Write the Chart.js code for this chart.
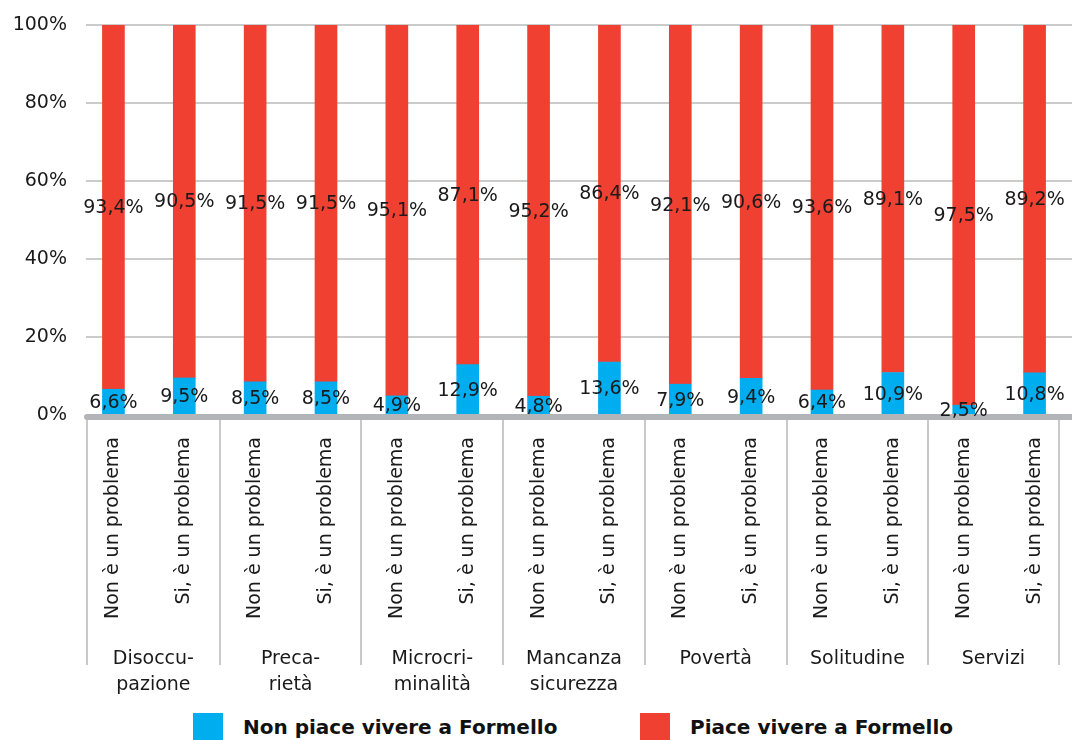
<!DOCTYPE html>
<html lang="it">
<head>
    <meta charset="UTF-8">
    <title>Formello - problemi percepiti</title>
    <script src="https://cdn.jsdelivr.net/npm/chart.js"></script>
    <style>
        body {
            margin: 0;
            background: #fff;
            font-family: 'DejaVu Sans', sans-serif;
        }
        .wrap {
            width: 1072px;
            height: 740px;
            position: relative;
        }
        .legend {
            display: flex;
            align-items: center;
            height: 35px;
            margin-top: 4px;
            padding-left: 193px;
            font-weight: bold;
            font-size: 20px;
            color: #111;
        }
        .legend .item {
            display: flex;
            align-items: center;
        }
        .legend .item:first-child {
            width: 447px;
        }
        .legend .sw {
            width: 30px;
            height: 27px;
            margin-right: 20px;
        }
    </style>
</head>
<body>
<div class="wrap">
    <canvas id="chart" width="1072" height="705"></canvas>
    <div class="legend" id="legend"></div>
</div>

<script>
    // risposte per ogni tema
    const answers = ["Non è un problema", "Si, è un problema"];
    const groups = [
        ["Disoccu-", "pazione"],
        ["Preca-", "rietà"],
        ["Microcri-", "minalità"],
        ["Mancanza", "sicurezza"],
        ["Povertà"],
        ["Solitudine"],
        ["Servizi"]
    ];
    const nonPiace = [6.6, 9.5, 8.5, 8.5, 4.9, 12.9, 4.8, 13.6, 7.9, 9.4, 6.4, 10.9, 2.5, 10.8];
    const piace = [93.4, 90.5, 91.5, 91.5, 95.1, 87.1, 95.2, 86.4, 92.1, 90.6, 93.6, 89.1, 97.5, 89.2];
    const yTicks = [0, 20, 40, 60, 80, 100];
    const seriesNames = ["Non piace vivere a Formello", "Piace vivere a Formello"];

    const BLUE = "#00aeef";
    const RED = "#ef4031";
    const FONT = "'DejaVu Sans', sans-serif";

    const labels = [];
    groups.forEach(() => answers.forEach(a => labels.push(a)));

    function fmt(v) {
        return v.toFixed(1).replace(".", ",") + "%";
    }

    // griglia, asse, separatori, etichette di gruppo e valori
    const decor = {
        id: "decor",
        beforeDatasetsDraw(chart) {
            const { ctx, chartArea, scales: { y } } = chart;
            ctx.save();
            ctx.strokeStyle = "#cbcbcb";
            ctx.lineWidth = 2;
            yTicks.forEach(v => {
                if (v === 0) return;
                const py = Math.round(y.getPixelForValue(v));
                ctx.beginPath();
                ctx.moveTo(chartArea.left + 8, py);
                ctx.lineTo(chart.width, py);
                ctx.stroke();
            });
            ctx.restore();
        },
        afterDatasetsDraw(chart) {
            const { ctx, chartArea, scales: { x, y } } = chart;
            const y0 = y.getPixelForValue(0);
            ctx.save();

            // linea di base
            ctx.strokeStyle = "#b3b4b8";
            ctx.lineWidth = 6;
            ctx.lineCap = "round";
            ctx.beginPath();
            ctx.moveTo(chartArea.left + 9, y0 + 2);
            ctx.lineTo(chart.width, y0 + 2);
            ctx.stroke();

            // separatori tra i gruppi
            const step = x.getPixelForTick(1) - x.getPixelForTick(0);
            const edges = [chartArea.left + 9];
            for (let g = 1; g < groups.length; g++) {
                const i = g * answers.length;
                edges.push((x.getPixelForTick(i - 1) + x.getPixelForTick(i)) / 2);
            }
            edges.push(x.getPixelForTick(labels.length - 1) + step * 0.34);
            ctx.strokeStyle = "#c9c9c9";
            ctx.lineWidth = 2;
            ctx.lineCap = "butt";
            edges.forEach(ex => {
                ctx.beginPath();
                ctx.moveTo(Math.round(ex), y0 + 5);
                ctx.lineTo(Math.round(ex), y0 + 250);
                ctx.stroke();
            });

            // nomi dei gruppi
            ctx.fillStyle = "#1a1a1a";
            ctx.font = "19px " + FONT;
            ctx.textAlign = "center";
            ctx.textBaseline = "middle";
            groups.forEach((lines, g) => {
                const cx = (edges[g] + edges[g + 1]) / 2;
                lines.forEach((t, k) => ctx.fillText(t, cx, y0 + 244 + k * 26));
            });

            // valori dentro i segmenti
            chart.data.datasets.forEach((ds, di) => {
                chart.getDatasetMeta(di).data.forEach((bar, i) => {
                    const cy = (bar.y + bar.base) / 2;
                    ctx.fillText(fmt(ds.data[i]), bar.x, cy + 1);
                });
            });
            ctx.restore();
        }
    };

    new Chart(document.getElementById("chart"), {
        type: "bar",
        data: {
            labels: labels,
            datasets: [
                { label: seriesNames[0], data: nonPiace, backgroundColor: BLUE },
                { label: seriesNames[1], data: piace, backgroundColor: RED }
            ]
        },
        options: {
            responsive: false,
            animation: false,
            layout: { padding: { top: 25, right: 2, left: 0, bottom: 0 } },
            datasets: {
                bar: { barThickness: 22, borderWidth: 0 }
            },
            plugins: {
                legend: { display: false },
                tooltip: { enabled: false }
            },
            scales: {
                x: {
                    stacked: true,
                    grid: { display: false, drawTicks: false },
                    border: { display: false },
                    ticks: {
                        autoSkip: false,
                        maxRotation: 90,
                        minRotation: 90,
                        padding: 22,
                        color: "#1a1a1a",
                        font: { family: FONT, size: 19 }
                    },
                    afterFit(scale) {
                        scale.height = 290;
                        scale.paddingLeft = 0;
                        scale.paddingRight = 0;
                    }
                },
                y: {
                    stacked: true,
                    min: 0,
                    max: 100,
                    grid: { display: false, drawTicks: false },
                    border: { display: false },
                    ticks: {
                        stepSize: 20,
                        padding: 11,
                        color: "#1a1a1a",
                        font: { family: FONT, size: 19 },
                        callback: v => v + "%"
                    },
                    afterFit(scale) { scale.width = 78; }
                }
            }
        },
        plugins: [decor]
    });

    // legenda
    const legend = document.getElementById("legend");
    [BLUE, RED].forEach((c, i) => {
        const item = document.createElement("div");
        item.className = "item";
        item.innerHTML = '<span class="sw" style="background:' + c + '"></span><span>' + seriesNames[i] + '</span>';
        legend.appendChild(item);
    });
</script>
</body>
</html>
